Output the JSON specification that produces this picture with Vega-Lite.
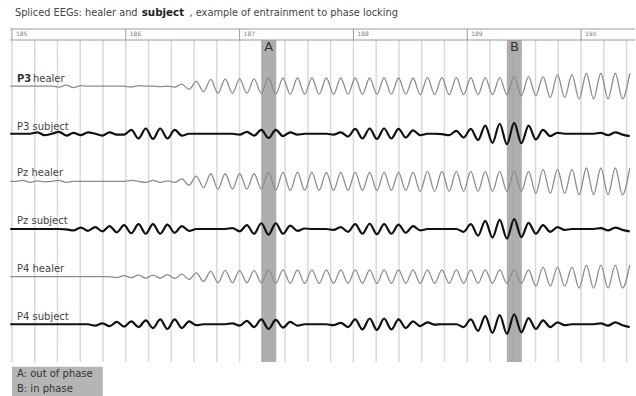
{
"$schema":"https://vega.github.io/schema/vega-lite/v6.json",
"width":636,"height":396,
"autosize":{"type":"fit","contains":"padding"},
"padding":0,
"background":"white",
"config":{"view":{"stroke":null},"text":{"font":"DejaVu Sans"}},
"datasets":{
"wave":[
{"t":184.985,"h3":-1,"s3":-2,"hz":-3,"sz":-4,"h4":-5,"s4":-6},
{"t":185.0331,"h3":-1,"s3":-2,"hz":-3,"sz":-4,"h4":-5,"s4":-6},
{"t":185.0966,"h3":-1,"s3":-2,"hz":-2.98,"sz":-4,"h4":-5,"s4":-6},
{"t":185.16,"h3":-1,"s3":-2,"hz":-3.02,"sz":-4,"h4":-5,"s4":-6},
{"t":185.2235,"h3":-1,"s3":-1.97,"hz":-2.99,"sz":-4,"h4":-5,"s4":-6},
{"t":185.287,"h3":-1,"s3":-2.03,"hz":-3.01,"sz":-4,"h4":-5,"s4":-6},
{"t":185.3504,"h3":-1,"s3":-2,"hz":-3,"sz":-4,"h4":-5,"s4":-6},
{"t":185.4139,"h3":-1.02,"s3":-1.96,"hz":-2.98,"sz":-4,"h4":-5,"s4":-6},
{"t":185.4774,"h3":-0.98,"s3":-2.04,"hz":-3.02,"sz":-4.01,"h4":-5,"s4":-6},
{"t":185.5408,"h3":-1.03,"s3":-1.98,"hz":-3,"sz":-4.03,"h4":-5,"s4":-6},
{"t":185.6043,"h3":-0.99,"s3":-2.03,"hz":-3,"sz":-3.97,"h4":-5,"s4":-6},
{"t":185.6678,"h3":-1,"s3":-1.97,"hz":-3,"sz":-4.04,"h4":-5,"s4":-6},
{"t":185.7312,"h3":-1,"s3":-2,"hz":-3,"sz":-3.96,"h4":-5,"s4":-6.03},
{"t":185.7947,"h3":-1,"s3":-2.04,"hz":-3,"sz":-4.05,"h4":-5,"s4":-5.98},
{"t":185.8582,"h3":-1,"s3":-1.97,"hz":-3,"sz":-3.94,"h4":-5,"s4":-6.04},
{"t":185.9216,"h3":-1,"s3":-2.02,"hz":-3,"sz":-4.07,"h4":-5.02,"s4":-5.95},
{"t":185.9851,"h3":-1,"s3":-2.02,"hz":-3,"sz":-3.92,"h4":-4.98,"s4":-6.05},
{"t":186.0486,"h3":-1.02,"s3":-1.92,"hz":-2.98,"sz":-4.09,"h4":-5.02,"s4":-5.94},
{"t":186.112,"h3":-0.99,"s3":-2.1,"hz":-3,"sz":-3.9,"h4":-4.97,"s4":-6.06},
{"t":186.1755,"h3":-1,"s3":-1.89,"hz":-3.02,"sz":-4.1,"h4":-5.03,"s4":-5.92},
{"t":186.239,"h3":-1,"s3":-2.11,"hz":-2.98,"sz":-3.9,"h4":-4.97,"s4":-6.08},
{"t":186.3024,"h3":-1.01,"s3":-1.89,"hz":-3.02,"sz":-4.1,"h4":-5.03,"s4":-5.9},
{"t":186.3659,"h3":-1,"s3":-2.1,"hz":-2.99,"sz":-3.91,"h4":-4.96,"s4":-6.1},
{"t":186.4294,"h3":-1.02,"s3":-1.92,"hz":-3.02,"sz":-4.08,"h4":-5.04,"s4":-5.9},
{"t":186.4929,"h3":-0.96,"s3":-2.04,"hz":-2.95,"sz":-3.94,"h4":-4.95,"s4":-6.08},
{"t":186.5563,"h3":-1.07,"s3":-2,"hz":-3.08,"sz":-4.04,"h4":-5.06,"s4":-5.94},
{"t":186.6198,"h3":-0.9,"s3":-2,"hz":-2.89,"sz":-4,"h4":-4.92,"s4":-6.02},
{"t":186.6832,"h3":-1.12,"s3":-2,"hz":-3.13,"sz":-4,"h4":-5.1,"s4":-6},
{"t":186.7467,"h3":-0.86,"s3":-2,"hz":-2.84,"sz":-4,"h4":-4.89,"s4":-6},
{"t":186.8102,"h3":-1.15,"s3":-2,"hz":-3.16,"sz":-4,"h4":-5.13,"s4":-6},
{"t":186.8736,"h3":-0.85,"s3":-2,"hz":-2.84,"sz":-4,"h4":-4.87,"s4":-6},
{"t":186.9371,"h3":-1.15,"s3":-2,"hz":-3.16,"sz":-3.98,"h4":-5.13,"s4":-5.98},
{"t":187.0005,"h3":-0.85,"s3":-2.02,"hz":-2.84,"sz":-4.05,"h4":-4.87,"s4":-6.03},
{"t":187.064,"h3":-1.15,"s3":-1.96,"hz":-3.16,"sz":-3.92,"h4":-5.13,"s4":-5.93},
{"t":187.1275,"h3":-0.85,"s3":-2.04,"hz":-2.84,"sz":-4.1,"h4":-4.87,"s4":-6.06},
{"t":187.1909,"h3":-1.15,"s3":-1.92,"hz":-3.16,"sz":-3.88,"h4":-5.13,"s4":-5.9},
{"t":187.2544,"h3":-0.83,"s3":-2.09,"hz":-2.81,"sz":-4.12,"h4":-4.86,"s4":-6.1},
{"t":187.3179,"h3":-1.17,"s3":-1.92,"hz":-3.19,"sz":-3.88,"h4":-5.14,"s4":-5.91},
{"t":187.3813,"h3":-0.83,"s3":-2.05,"hz":-2.81,"sz":-4.1,"h4":-4.86,"s4":-6.07},
{"t":187.4448,"h3":-1.17,"s3":-1.97,"hz":-3.19,"sz":-3.93,"h4":-5.14,"s4":-5.95},
{"t":187.5083,"h3":-0.83,"s3":-2.02,"hz":-2.81,"sz":-4.04,"h4":-4.86,"s4":-6.03},
{"t":187.5717,"h3":-1.17,"s3":-2,"hz":-3.19,"sz":-3.99,"h4":-5.14,"s4":-6},
{"t":187.6352,"h3":-0.83,"s3":-2,"hz":-2.81,"sz":-4,"h4":-4.86,"s4":-6},
{"t":187.6986,"h3":-1.17,"s3":-2,"hz":-3.19,"sz":-4,"h4":-5.14,"s4":-6},
{"t":187.7621,"h3":-0.83,"s3":-2,"hz":-2.81,"sz":-4,"h4":-4.86,"s4":-6},
{"t":187.8256,"h3":-1.17,"s3":-2.02,"hz":-3.19,"sz":-4.02,"h4":-5.14,"s4":-6.02},
{"t":187.889,"h3":-0.83,"s3":-1.97,"hz":-2.81,"sz":-3.96,"h4":-4.86,"s4":-5.97},
{"t":187.9525,"h3":-1.17,"s3":-2.06,"hz":-3.19,"sz":-4.06,"h4":-5.14,"s4":-6.06},
{"t":188.016,"h3":-0.83,"s3":-1.9,"hz":-2.81,"sz":-3.9,"h4":-4.86,"s4":-5.9},
{"t":188.0794,"h3":-1.17,"s3":-2.1,"hz":-3.19,"sz":-4.1,"h4":-5.14,"s4":-6.11},
{"t":188.1429,"h3":-0.83,"s3":-1.89,"hz":-2.81,"sz":-3.89,"h4":-4.86,"s4":-5.88},
{"t":188.2064,"h3":-1.17,"s3":-2.11,"hz":-3.19,"sz":-4.11,"h4":-5.14,"s4":-6.12},
{"t":188.2698,"h3":-0.83,"s3":-1.89,"hz":-2.81,"sz":-3.9,"h4":-4.86,"s4":-5.88},
{"t":188.3333,"h3":-1.17,"s3":-2.1,"hz":-3.19,"sz":-4.1,"h4":-5.14,"s4":-6.11},
{"t":188.3968,"h3":-0.83,"s3":-1.9,"hz":-2.81,"sz":-3.91,"h4":-4.86,"s4":-5.9},
{"t":188.4602,"h3":-1.17,"s3":-2.08,"hz":-3.19,"sz":-4.08,"h4":-5.14,"s4":-6.08},
{"t":188.5237,"h3":-0.83,"s3":-1.93,"hz":-2.81,"sz":-3.94,"h4":-4.86,"s4":-5.94},
{"t":188.5871,"h3":-1.18,"s3":-2.03,"hz":-3.21,"sz":-4.03,"h4":-5.14,"s4":-6.04},
{"t":188.6506,"h3":-0.82,"s3":-2,"hz":-2.79,"sz":-4,"h4":-4.86,"s4":-5.96},
{"t":188.7141,"h3":-1.18,"s3":-2,"hz":-3.21,"sz":-4,"h4":-5.14,"s4":-6.01},
{"t":188.7775,"h3":-0.82,"s3":-2.01,"hz":-2.79,"sz":-4,"h4":-4.86,"s4":-6},
{"t":188.841,"h3":-1.18,"s3":-2.03,"hz":-3.21,"sz":-4,"h4":-5.14,"s4":-6},
{"t":188.9045,"h3":-0.82,"s3":-1.94,"hz":-2.79,"sz":-4,"h4":-4.86,"s4":-6},
{"t":188.9679,"h3":-1.18,"s3":-2.08,"hz":-3.21,"sz":-4.06,"h4":-5.14,"s4":-6.06},
{"t":189.0314,"h3":-0.82,"s3":-1.9,"hz":-2.79,"sz":-3.9,"h4":-4.86,"s4":-5.9},
{"t":189.0949,"h3":-1.18,"s3":-2.13,"hz":-3.21,"sz":-4.14,"h4":-5.14,"s4":-6.14},
{"t":189.1583,"h3":-0.82,"s3":-1.83,"hz":-2.79,"sz":-3.83,"h4":-4.86,"s4":-5.83},
{"t":189.2218,"h3":-1.18,"s3":-2.19,"hz":-3.21,"sz":-4.18,"h4":-5.14,"s4":-6.18},
{"t":189.2853,"h3":-0.82,"s3":-1.79,"hz":-2.79,"sz":-3.81,"h4":-4.86,"s4":-5.81},
{"t":189.3487,"h3":-1.18,"s3":-2.22,"hz":-3.21,"sz":-4.2,"h4":-5.14,"s4":-6.2},
{"t":189.4122,"h3":-0.8,"s3":-1.77,"hz":-2.79,"sz":-3.79,"h4":-4.86,"s4":-5.79},
{"t":189.4757,"h3":-1.2,"s3":-2.2,"hz":-3.21,"sz":-4.17,"h4":-5.14,"s4":-6.17},
{"t":189.5391,"h3":-0.8,"s3":-1.83,"hz":-2.79,"sz":-3.87,"h4":-4.86,"s4":-5.87},
{"t":189.6026,"h3":-1.2,"s3":-2.12,"hz":-3.25,"sz":-4.1,"h4":-5.2,"s4":-6.1},
{"t":189.666,"h3":-0.8,"s3":-1.92,"hz":-2.75,"sz":-3.92,"h4":-4.8,"s4":-5.92},
{"t":189.7295,"h3":-1.24,"s3":-2.05,"hz":-3.25,"sz":-4.06,"h4":-5.2,"s4":-6.06},
{"t":189.793,"h3":-0.76,"s3":-1.98,"hz":-2.75,"sz":-3.96,"h4":-4.8,"s4":-5.96},
{"t":189.8564,"h3":-1.24,"s3":-2,"hz":-3.25,"sz":-4.02,"h4":-5.2,"s4":-6.02},
{"t":189.9199,"h3":-0.76,"s3":-2,"hz":-2.75,"sz":-4,"h4":-4.8,"s4":-6},
{"t":189.9834,"h3":-1.27,"s3":-2,"hz":-3.28,"sz":-4,"h4":-5.24,"s4":-6},
{"t":190.0468,"h3":-0.73,"s3":-2,"hz":-2.72,"sz":-4,"h4":-4.76,"s4":-6},
{"t":190.1103,"h3":-1.27,"s3":-2,"hz":-3.28,"sz":-4,"h4":-5.24,"s4":-6},
{"t":190.1738,"h3":-0.73,"s3":-1.98,"hz":-2.72,"sz":-3.98,"h4":-4.76,"s4":-5.98},
{"t":190.2372,"h3":-1.27,"s3":-2.03,"hz":-3.28,"sz":-4.03,"h4":-5.24,"s4":-6.03},
{"t":190.3007,"h3":-0.73,"s3":-1.97,"hz":-2.72,"sz":-3.97,"h4":-4.76,"s4":-5.96},
{"t":190.3642,"h3":-1.27,"s3":-2.02,"hz":-3.28,"sz":-4.02,"h4":-5.24,"s4":-6.02},
{"t":190.4276,"h3":-0.73,"s3":-2.05,"hz":-2.72,"sz":-4.05,"h4":-4.76,"s4":-6.06}
],
"grid":[{"t":185.0},{"t":185.2},{"t":185.4},{"t":185.6},{"t":185.8},{"t":186.0},{"t":186.2},{"t":186.4},{"t":186.6},{"t":186.8},{"t":187.0},{"t":187.2},{"t":187.4},{"t":187.6},{"t":187.8},{"t":188.0},{"t":188.2},{"t":188.4},{"t":188.6},{"t":188.8},{"t":189.0},{"t":189.2},{"t":189.4},{"t":189.6},{"t":189.8},{"t":190.0},{"t":190.2},{"t":190.4}],
"majors":[{"t":185},{"t":186},{"t":187},{"t":188},{"t":189},{"t":190}],
"bands":[{"name":"A","t1":187.1904,"t2":187.322,"tc":187.256},{"name":"B","t1":189.3482,"t2":189.4798,"tc":189.414}],
"titleNormal":[{"t":185.026,"txt":"Spliced EEGs: healer and"},{"t":186.56,"txt":", example of entrainment to phase locking"}],
"titleBold":[{"t":186.14,"txt":"subject"}],
"labBold":[{"t":185.044,"v":-0.85,"txt":"P3"}],
"labNormal":[{"t":185.184,"v":-0.85,"txt":"healer"},{"t":185.044,"v":-1.86,"txt":"P3 subject"},{"t":185.044,"v":-2.83,"txt":"Pz healer"},{"t":185.044,"v":-3.83,"txt":"Pz subject"},{"t":185.044,"v":-4.84,"txt":"P4 healer"},{"t":185.044,"v":-5.85,"txt":"P4  subject"}],
"legendText":[{"t":185.044,"v":-7.045,"txt":"A: out of phase"},{"t":185.044,"v":-7.36,"txt":"B: in phase"}]
},
"layer":[
{"data":{"name":"grid"},"mark":{"type":"rule","color":"#d9d9d9","strokeWidth":1.5},
 "encoding":{"x":{"field":"t","type":"quantitative","scale":{"domain":[184.895,190.474],"nice":false,"zero":false},"axis":null},
 "y":{"datum":-0.032,"type":"quantitative","scale":{"domain":[-7.507,0.808],"nice":false,"zero":false},"axis":null},"y2":{"datum":-6.793}}},
{"data":{"name":"bands"},"mark":{"type":"rect","fill":"#a3a3a3","opacity":0.88},
 "encoding":{"x":{"field":"t1","type":"quantitative","scale":{"domain":[184.895,190.474],"nice":false,"zero":false},"axis":null},"x2":{"field":"t2"},
 "y":{"datum":-0.032,"type":"quantitative","scale":{"domain":[-7.507,0.808],"nice":false,"zero":false},"axis":null},"y2":{"datum":-6.793}}},
{"data":{"name":"majors"},"mark":{"type":"rule","color":"#9a9a9a","strokeWidth":1},
 "encoding":{"x":{"field":"t","type":"quantitative","scale":{"domain":[184.895,190.474],"nice":false,"zero":false},"axis":null},
 "y":{"datum":0.199,"type":"quantitative","scale":{"domain":[-7.507,0.808],"nice":false,"zero":false},"axis":null},"y2":{"datum":-0.032}}},
{"data":{"name":"majors"},"mark":{"type":"text","align":"left","baseline":"middle","dx":4,"fontSize":6,"color":"#808080"},
 "encoding":{"x":{"field":"t","type":"quantitative","scale":{"domain":[184.895,190.474],"nice":false,"zero":false},"axis":null},
 "y":{"datum":0.085,"type":"quantitative","scale":{"domain":[-7.507,0.808],"nice":false,"zero":false},"axis":null},"text":{"field":"t","type":"quantitative"}}},
{"data":{"values":[{}]},"mark":{"type":"rule","color":"#9a9a9a","strokeWidth":1},
 "encoding":{"x":{"datum":184.982,"type":"quantitative","scale":{"domain":[184.895,190.474],"nice":false,"zero":false},"axis":null},"x2":{"datum":190.474},
 "y":{"datum":0.199,"type":"quantitative","scale":{"domain":[-7.507,0.808],"nice":false,"zero":false},"axis":null}}},
{"data":{"values":[{}]},"mark":{"type":"rule","color":"#9a9a9a","strokeWidth":1},
 "encoding":{"x":{"datum":184.982,"type":"quantitative","scale":{"domain":[184.895,190.474],"nice":false,"zero":false},"axis":null},"x2":{"datum":190.474},
 "y":{"datum":-0.032,"type":"quantitative","scale":{"domain":[-7.507,0.808],"nice":false,"zero":false},"axis":null}}},
{"data":{"values":[{}]},"mark":{"type":"rect","fill":"#b5b5b5"},
 "encoding":{"x":{"datum":185.0,"type":"quantitative","scale":{"domain":[184.895,190.474],"nice":false,"zero":false},"axis":null},"x2":{"datum":185.798},
 "y":{"datum":-6.891,"type":"quantitative","scale":{"domain":[-7.507,0.808],"nice":false,"zero":false},"axis":null},"y2":{"datum":-7.507}}},
{"data":{"name":"wave"},"transform":[{"fold":["h3","hz","h4"],"as":["ch","v"]}],
 "mark":{"type":"line","interpolate":"monotone","color":"#8c8c8c","strokeWidth":1.3},
 "encoding":{"x":{"field":"t","type":"quantitative","scale":{"domain":[184.895,190.474],"nice":false,"zero":false},"axis":null},
 "y":{"field":"v","type":"quantitative","scale":{"domain":[-7.507,0.808],"nice":false,"zero":false},"axis":null},"detail":{"field":"ch"}}},
{"data":{"name":"wave"},"transform":[{"fold":["s3","sz","s4"],"as":["ch","v"]}],
 "mark":{"type":"line","interpolate":"monotone","color":"#111","strokeWidth":2.2},
 "encoding":{"x":{"field":"t","type":"quantitative","scale":{"domain":[184.895,190.474],"nice":false,"zero":false},"axis":null},
 "y":{"field":"v","type":"quantitative","scale":{"domain":[-7.507,0.808],"nice":false,"zero":false},"axis":null},"detail":{"field":"ch"}}},
{"data":{"name":"bands"},"mark":{"type":"text","align":"center","baseline":"middle","fontSize":13,"color":"#333"},
 "encoding":{"x":{"field":"tc","type":"quantitative","scale":{"domain":[184.895,190.474],"nice":false,"zero":false},"axis":null},
 "y":{"datum":-0.179,"type":"quantitative","scale":{"domain":[-7.507,0.808],"nice":false,"zero":false},"axis":null},"text":{"field":"name"}}},
{"data":{"name":"titleNormal"},"mark":{"type":"text","align":"left","baseline":"middle","fontSize":9.8,"color":"#444"},
 "encoding":{"x":{"field":"t","type":"quantitative","scale":{"domain":[184.895,190.474],"nice":false,"zero":false},"axis":null},
 "y":{"datum":0.535,"type":"quantitative","scale":{"domain":[-7.507,0.808],"nice":false,"zero":false},"axis":null},"text":{"field":"txt"}}},
{"data":{"name":"titleBold"},"mark":{"type":"text","align":"left","baseline":"middle","fontSize":10.3,"fontWeight":"bold","color":"#222"},
 "encoding":{"x":{"field":"t","type":"quantitative","scale":{"domain":[184.895,190.474],"nice":false,"zero":false},"axis":null},
 "y":{"datum":0.535,"type":"quantitative","scale":{"domain":[-7.507,0.808],"nice":false,"zero":false},"axis":null},"text":{"field":"txt"}}},
{"data":{"name":"labBold"},"mark":{"type":"text","align":"left","baseline":"middle","fontSize":10,"fontWeight":"bold","color":"#333"},
 "encoding":{"x":{"field":"t","type":"quantitative","scale":{"domain":[184.895,190.474],"nice":false,"zero":false},"axis":null},
 "y":{"field":"v","type":"quantitative","scale":{"domain":[-7.507,0.808],"nice":false,"zero":false},"axis":null},"text":{"field":"txt"}}},
{"data":{"name":"labNormal"},"mark":{"type":"text","align":"left","baseline":"middle","fontSize":10,"color":"#444"},
 "encoding":{"x":{"field":"t","type":"quantitative","scale":{"domain":[184.895,190.474],"nice":false,"zero":false},"axis":null},
 "y":{"field":"v","type":"quantitative","scale":{"domain":[-7.507,0.808],"nice":false,"zero":false},"axis":null},"text":{"field":"txt"}}},
{"data":{"name":"legendText"},"mark":{"type":"text","align":"left","baseline":"middle","fontSize":10,"color":"#333"},
 "encoding":{"x":{"field":"t","type":"quantitative","scale":{"domain":[184.895,190.474],"nice":false,"zero":false},"axis":null},
 "y":{"field":"v","type":"quantitative","scale":{"domain":[-7.507,0.808],"nice":false,"zero":false},"axis":null},"text":{"field":"txt"}}}
]
}
